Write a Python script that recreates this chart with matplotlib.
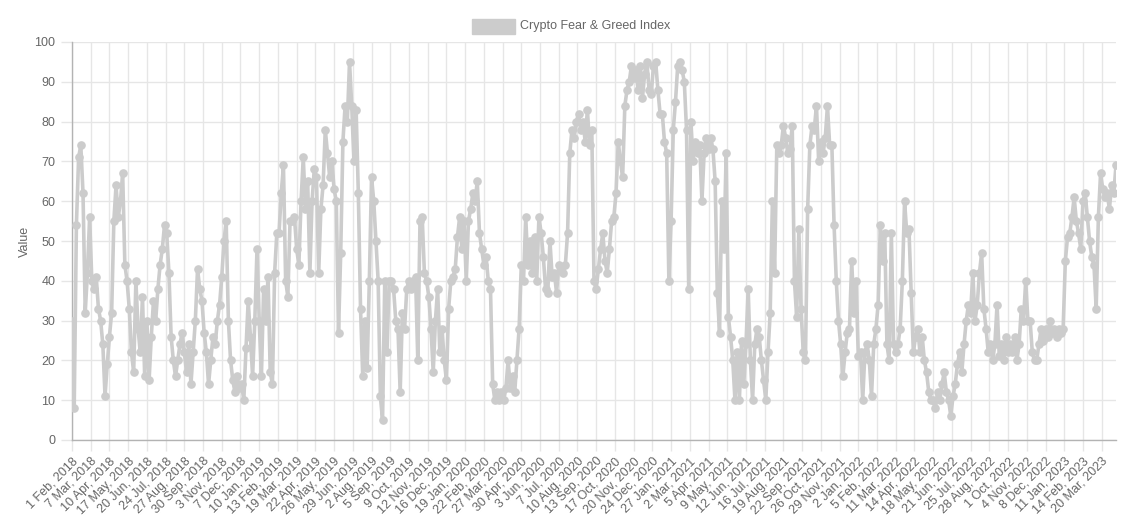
import numpy as np
import pandas as pd
import matplotlib.pyplot as plt
from matplotlib.patches import Rectangle

plt.rcParams['font.family'] = ['Liberation Sans', 'DejaVu Sans']

# daily categories, the index skips three days in april 2018
start_date = '2018-02-01'
missing_days = ['2018-04-14', '2018-04-15', '2018-04-16']
n_days = 1897
label_every = 34

# index value read every 4th day off the chart
sample_step = 4
fng_values = [
    # 2018
    30, 8, 54, 71, 74, 62, 32, 42, 56,
    40, 38, 41, 33, 30, 24, 11, 19,
    26, 32, 55, 64, 56, 60, 67, 44, 40,
    33, 22, 17, 40, 28, 22, 36, 16,
    30, 15, 26, 35, 30, 38, 44, 48, 54,
    52, 42, 26, 20, 16, 20, 24, 27,
    22, 17, 24, 14, 22, 30, 43, 38, 35,
    27, 22, 14, 20, 26, 24, 30, 34,
    41, 50, 55, 30, 20, 15, 12, 16,
    # 2019
    13, 14, 10, 23, 35, 26, 16, 30, 48,
    30, 16, 38, 30, 41, 17, 14, 42,
    52, 52, 62, 69, 40, 36, 55, 55,
    56, 48, 44, 60, 71, 58, 65, 42, 60,
    68, 66, 42, 58, 64, 78, 72, 66,
    70, 63, 60, 27, 47, 75, 84, 80,
    95, 84, 70, 83, 62, 33, 16, 30, 18,
    40, 66, 60, 50, 40, 11, 5, 40,
    22, 40, 40, 38, 30, 28, 12, 32,
    28, 38, 40, 38, 40, 41, 20, 55, 56,
    42, 40, 36, 28, 17, 30, 38, 22,
    # 2020
    28, 20, 15, 33, 40, 41, 43, 51, 56,
    48, 55, 40, 55, 58, 62, 60, 65,
    52, 48, 44, 46, 40, 38, 14, 10,
    12, 10, 12, 10, 13, 20, 13, 16, 12,
    20, 28, 44, 40, 56, 44, 50, 42,
    51, 40, 56, 52, 46, 38, 37, 50,
    41, 42, 37, 44, 43, 42, 44, 52, 72,
    78, 76, 80, 82, 78, 80, 75, 83,
    74, 78, 40, 38, 43, 48, 52, 45, 42,
    48, 55, 56, 62, 75, 70, 66, 84,
    88, 90, 94, 91, 93, 88, 94, 86,
    92, 95, 88, 87, 94, 95, 88, 82, 82,
    # 2021
    75, 72, 40, 55, 78, 85, 94, 95,
    93, 90, 78, 38, 80, 70, 75, 72, 74,
    60, 72, 76, 73, 76, 73, 65, 37,
    27, 60, 48, 72, 31, 26, 20, 10,
    22, 10, 25, 14, 24, 38, 20, 10, 24,
    28, 26, 20, 15, 10, 22, 32, 60,
    42, 74, 72, 74, 79, 76, 72, 73, 79,
    40, 31, 53, 33, 22, 20, 58, 74,
    79, 78, 84, 70, 75, 72, 76, 84, 74,
    # 2022
    74, 54, 40, 30, 24, 16, 22, 27,
    28, 45, 32, 40, 21, 22, 10, 22, 24,
    20, 11, 24, 28, 34, 54, 45, 52,
    24, 20, 52, 24, 22, 24, 28, 40, 60,
    52, 53, 37, 22, 26, 28, 22, 26,
    20, 17, 12, 10, 10, 8, 12, 10, 14,
    17, 12, 10, 6, 11, 14, 19, 22,
    17, 24, 30, 34, 32, 42, 30, 34, 42,
    47, 33, 28, 22, 24, 20, 24, 34,
    21, 24, 20, 26, 22, 24, 22, 26, 20,
    24, 33, 30, 40, 30, 30, 22, 20,
    20, 24, 28, 25, 28, 26, 30, 27, 28,
    # 2023
    26, 28, 27, 28, 45, 51, 52, 56,
    61, 55, 52, 48, 60, 62, 56, 50, 46,
    44, 33, 56, 67, 63, 61, 62, 58,
    64, 62, 69,
]
y_ticks = list(range(0, 101, 10))

dates = pd.date_range(start_date, periods=n_days + len(missing_days))
dates = dates[~dates.isin(pd.to_datetime(missing_days))][:n_days]
tick_pos = list(range(0, n_days, label_every))
tick_labels = [f'{dates[i].day} {dates[i]:%b}, {dates[i].year}' for i in tick_pos]

x = np.arange(len(fng_values)) * sample_step

fig = plt.figure(figsize=(11.29, 5.2), dpi=100)
ax = fig.add_axes([72/1129, 80/520, 1044/1129, 398/520])

line_col = '#cccccc'
grid_col = '#e6e6e6'
text_col = '#666666'

ax.plot(x, fng_values, color=line_col, lw=2.6, marker='o', ms=5.2,
        mfc=line_col, mec=line_col, zorder=3, solid_joinstyle='round')

ax.set_xlim(0, n_days - 1)
ax.set_ylim(0, 100)
ax.set_xticks(tick_pos)
ax.set_xticklabels(tick_labels, rotation=45, ha='right', va='top',
                   rotation_mode='anchor')
ax.set_yticks(y_ticks)
ax.tick_params(axis='both', colors=grid_col, length=8, width=1,
               labelcolor=text_col, labelsize=9)
ax.tick_params(axis='x', pad=3)
ax.tick_params(axis='y', pad=4)
ax.grid(True, color=grid_col, lw=1, zorder=0)

for side in ['top', 'right']:
    ax.spines[side].set_visible(False)
for side in ['left', 'bottom']:
    ax.spines[side].set_color('#b3b3b3')
    ax.spines[side].set_linewidth(1)

ax.set_ylabel('Value', color=text_col, fontsize=9)
ax.yaxis.set_label_coords(-41/1044, 0.5)

# legend drawn like the chart.js one
fig.add_artist(Rectangle((472/1129, 1 - 34/520), 43/1129, 15/520,
                         transform=fig.transFigure, facecolor=line_col,
                         edgecolor=line_col, lw=1))
fig.text(520/1129, 1 - 26.5/520, 'Crypto Fear & Greed Index', color=text_col,
         fontsize=9, va='center', ha='left')

fig.savefig('out.png', dpi=100)
